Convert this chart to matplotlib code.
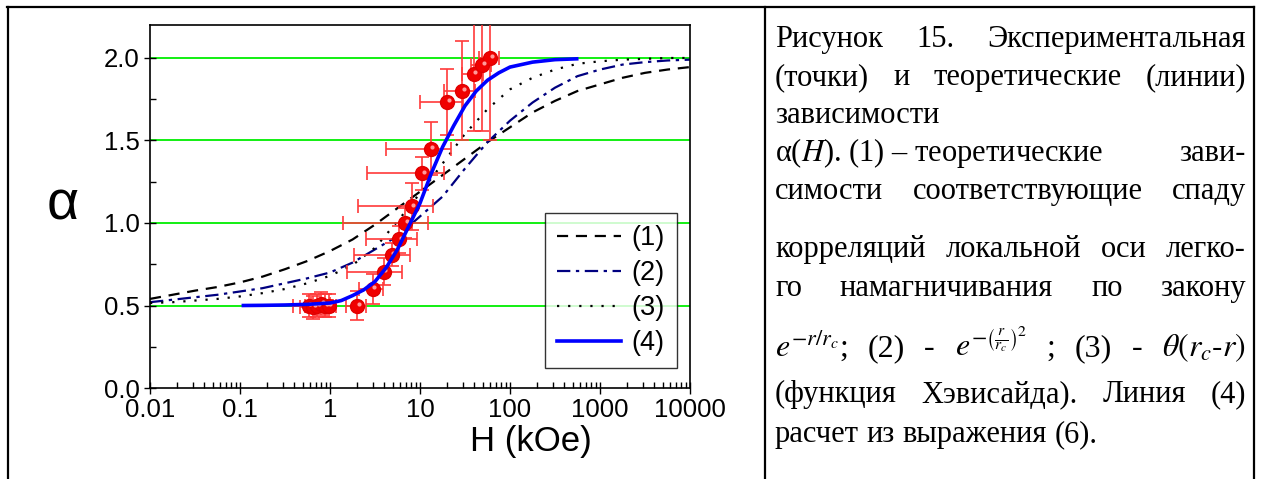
import matplotlib
matplotlib.use('Agg')
import matplotlib.pyplot as plt
import matplotlib.transforms as mtransforms
from matplotlib.lines import Line2D
from matplotlib.ticker import FixedLocator, MultipleLocator, LogLocator, NullFormatter

plt.rcParams['font.family'] = 'Liberation Sans'
plt.rcParams['mathtext.fontset'] = 'stix'

W, Hpx = 1261, 479

# experimental points alpha(H)
H_exp = [0.58, 0.65, 0.72, 0.80, 0.88, 0.97, 2.0, 2.98, 3.95, 4.84, 5.9, 6.9, 8.07,
         10.6, 13.2, 20.0, 29.5, 39.5, 49.0, 60.0]
a_exp = [0.50, 0.49, 0.50, 0.51, 0.50, 0.50, 0.50, 0.60, 0.706, 0.807, 0.90, 1.0, 1.10,
         1.30, 1.45, 1.733, 1.80, 1.905, 1.956, 2.0]
H_err = [0.19, 0.19, 0.19, 0.19, 0.19, 0.19, 0.5, 0.9, 2.4, 3.0, 3.4, 5.5, 6.0,
         8.0, 9.0, 10.0, 11.0, 10.0, 12.0, 15.0]
a_err = [0.07, 0.07, 0.07, 0.07, 0.07, 0.07, 0.09, 0.09, 0.08, 0.07, 0.08, 0.09, 0.14,
         0.10, 0.16, 0.20, 0.30, 0.35, 0.40, 0.50]

# theoretical curves (1)-(3)
H_th = [0.01, 0.0178, 0.0316, 0.0562, 0.1, 0.178, 0.316, 0.562, 1.0, 1.78, 3.16, 5.62,
        10.0, 17.8, 31.6, 56.2, 100, 178, 316, 562, 1000, 1778, 3162, 5623, 10000]
a_1 = [0.54, 0.565, 0.59, 0.612, 0.64, 0.675, 0.72, 0.77, 0.83, 0.90, 0.99, 1.09,
       1.19, 1.29, 1.39, 1.49, 1.58, 1.67, 1.74, 1.80, 1.84, 1.88, 1.91, 1.93, 1.945]
a_2 = [0.52, 0.535, 0.55, 0.565, 0.585, 0.605, 0.635, 0.665, 0.70, 0.76, 0.84, 0.92,
       1.04, 1.16, 1.33, 1.49, 1.62, 1.73, 1.82, 1.89, 1.93, 1.96, 1.975, 1.985, 1.99]
a_3 = [0.515, 0.52, 0.53, 0.54, 0.555, 0.575, 0.60, 0.635, 0.68, 0.745, 0.85, 1.01,
       1.18, 1.36, 1.54, 1.69, 1.81, 1.88, 1.93, 1.965, 1.98, 1.99, 1.995, 2.0, 2.0]

# curve (4), expression (6)
H_4 = [0.109, 0.178, 0.316, 0.562, 1.0, 1.334, 1.78, 2.371, 3.16, 4.217, 5.62, 7.499,
       10.0, 13.34, 17.8, 23.71, 31.6, 42.17, 56.2, 74.99, 100, 178, 316, 551]
a_4 = [0.50, 0.501, 0.503, 0.507, 0.515, 0.53, 0.56, 0.595, 0.645, 0.73, 0.84, 0.98,
       1.12, 1.30, 1.46, 1.59, 1.71, 1.80, 1.865, 1.91, 1.945, 1.975, 1.99, 1.995]

fig = plt.figure(figsize=(W / 100, Hpx / 100), dpi=100)


def fx(x):
    return x / W


def fy(y):
    return 1 - y / Hpx


# table borders
for xs, ys in [((7, 1254), (7, 7)), ((7.5, 7.5), (7, 479)), ((765, 765), (7, 479)),
               ((1254, 1254), (7, 479))]:
    fig.add_artist(Line2D([fx(v) for v in xs], [fy(v) for v in ys], color='black', lw=1.6))

ax = fig.add_axes([fx(150), fy(388), fx(540), 363 / Hpx])
ax.set_xscale('log')
ax.set_xlim(0.01, 10000)
ax.set_ylim(0, 2.2)

for g in [0.5, 1.0, 1.5, 2.0]:
    ax.axhline(g, color='#00ee00', lw=1.3, zorder=0)

ax.plot(H_th, a_1, color='black', lw=1.6, dashes=(5, 3.5), label='(1)', zorder=2)
ax.plot(H_th, a_2, color='#000080', lw=1.6, dashes=(6, 2.5, 1.5, 2.5), label='(2)', zorder=2)
ax.plot(H_th, a_3, color='black', lw=1.6, dashes=(1, 4), label='(3)', zorder=2)

ax.errorbar(H_exp, a_exp, xerr=H_err, yerr=a_err, fmt='none', ecolor='#ff3a3a',
            elinewidth=1.2, capsize=4.7, capthick=1.2, zorder=3)
ax.plot(H_exp, a_exp, 'o', color='#f00000', markeredgecolor='#e00000', ms=10, zorder=4)
hl = mtransforms.offset_copy(ax.transData, fig=fig, x=1.5, y=1.8, units='dots')
ax.plot(H_exp, a_exp, 'o', color='#ff9a9a', markeredgewidth=0, ms=3, transform=hl, zorder=5)

ax.plot(H_4, a_4, color='#0000ff', lw=2.6, label='(4)', zorder=6)

ax.xaxis.set_major_locator(FixedLocator([0.01, 0.1, 1, 10, 100, 1000, 10000]))
ax.set_xticklabels(['0.01', '0.1', '1', '10', '100', '1000', '10000'])
ax.xaxis.set_minor_locator(LogLocator(base=10, subs=range(2, 10), numticks=20))
ax.xaxis.set_minor_formatter(NullFormatter())
ax.yaxis.set_minor_locator(MultipleLocator(0.25))
ax.set_yticks([0, 0.5, 1.0, 1.5, 2.0])
ax.set_yticklabels(['0.0', '0.5', '1.0', '1.5', '2.0'])
ax.tick_params(which='major', direction='inout', length=9, width=1, labelsize=18.5, pad=3)
ax.tick_params(which='minor', direction='in', length=4, width=1)
ax.tick_params(top=False, right=False)
for s in ax.spines.values():
    s.set_linewidth(1.2)

leg = ax.legend(loc='upper left', bbox_to_anchor=(fx(545 - 150) / fx(540), 1 - (213 - 25) / 363),
                borderaxespad=0, fontsize=19.5, handlelength=2.35, handletextpad=0.38,
                labelspacing=0.33, borderpad=0.45, frameon=True, fancybox=False,
                edgecolor='black')
leg.get_frame().set_linewidth(1.0)

fig.text(fx(531), fy(441), 'H (kOe)', fontsize=25, ha='center', va='center')
fig.text(fx(63), fy(205), 'α', fontsize=40, ha='center', va='center')

# caption, justified between the cell margins
renderer = fig.canvas.get_renderer()
X0, X1 = 775, 1246
FS = 22


def caption_line(words, base, justify=True, size=FS):
    texts = [fig.text(0, fy(base), w, fontsize=size, family='Liberation Serif',
                      va='baseline', ha='left') for w in words]
    widths = [t.get_window_extent(renderer).width for t in texts]
    if justify and len(words) > 1:
        gap = (X1 - X0 - sum(widths)) / (len(words) - 1)
    else:
        sp = fig.text(0, 0, 'a a', fontsize=size, family='Liberation Serif')
        sp2 = fig.text(0, 0, 'aa', fontsize=size, family='Liberation Serif')
        gap = sp.get_window_extent(renderer).width - sp2.get_window_extent(renderer).width
        sp.remove()
        sp2.remove()
    x = X0
    for t, w in zip(texts, widths):
        t.set_x(fx(x))
        x += w + gap


caption_line(['Рисунок', '15.', 'Экспериментальная'], 47)
caption_line(['(точки)', 'и', 'теоретические', '(линии)'], 85)
caption_line(['зависимости'], 123, justify=False)
caption_line(['α($\\mathit{H}$). (1) – теоретические', 'зави-'], 161)
caption_line(['симости', 'соответствующие', 'спаду'], 199)
caption_line(['корреляций', 'локальной', 'оси', 'легко-'], 257)
caption_line(['го', 'намагничивания', 'по', 'закону'], 296)
caption_line(['$e^{-r/r_c}$;', '(2)', '-', '$e^{-\\left(\\frac{r}{r_c}\\right)^2}$', ';',
              '(3)', '-', '$\\theta\\left(r_c\\text{-}r\\right)$'], 356, size=23)
caption_line(['(функция', 'Хэвисайда).', 'Линия', '(4)'], 402)
caption_line(['расчет', 'из', 'выражения', '(6).'], 442, justify=False)

fig.savefig('out.png', dpi=100)
